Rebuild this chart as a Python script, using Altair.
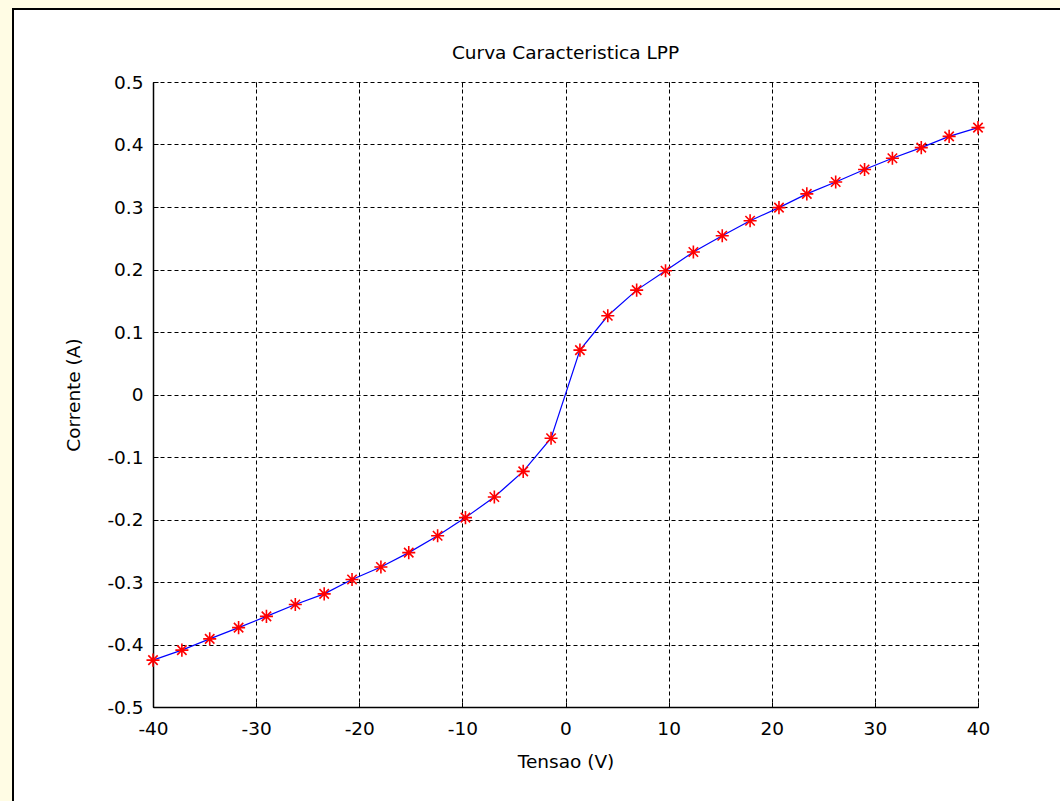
import altair as alt
import pandas as pd

# ---- data ----
tensao = [-40.0, -37.2, -34.5, -31.7, -29.0, -26.2, -23.4, -20.7, -17.9, -15.2,
          -12.4, -9.7, -6.9, -4.1, -1.4, 1.4, 4.1, 6.9, 9.7, 12.4,
          15.2, 17.9, 20.7, 23.4, 26.2, 29.0, 31.7, 34.5, 37.2, 40.0]
corrente = [-0.425, -0.409, -0.391, -0.373, -0.355, -0.336, -0.319, -0.296, -0.276, -0.253,
            -0.226, -0.197, -0.164, -0.123, -0.070, 0.071, 0.126, 0.167, 0.198, 0.228,
            0.254, 0.278, 0.299, 0.321, 0.340, 0.360, 0.378, 0.395, 0.413, 0.427]
x_ticks = [-40, -30, -20, -10, 0, 10, 20, 30, 40]
y_ticks = [-0.5, -0.4, -0.3, -0.2, -0.1, 0, 0.1, 0.2, 0.3, 0.4, 0.5]
title_text = "Curva Caracteristica LPP"

df = pd.DataFrame({"Tensao": tensao, "Corrente": corrente})
one = pd.DataFrame({"k": [0]})

W, H = 825, 625
PAD_L, PAD_T, PAD_R, PAD_B = 153, 82, 82, 94
FONT = "DejaVu Sans"
FS = 18.5
YELLOW = "#FFFCE4"
STAR = "M-1,0L1,0M0,-1L0,1M-0.72,-0.72L0.72,0.72M-0.72,0.72L0.72,-0.72"

xs = alt.Scale(domain=[-40, 40], nice=False, zero=False)
ys = alt.Scale(domain=[-0.5, 0.5], nice=False, zero=False)

grid_style = dict(grid=True, gridDash=[4, 3], gridColor="black", gridWidth=1, gridOpacity=1)
label_style = dict(labelFontSize=FS, labelColor="black", labelFont=FONT, labelFlush=False,
                   labelOverlap=False, labelExpr="'' + datum.value")
title_style = dict(titleFontSize=FS, titleFont=FONT, titleFontWeight="normal", titleColor="black")

main_x = alt.Axis(values=x_ticks, ticks=False, domain=True, domainColor="black", domainWidth=1.5,
                  labelPadding=12, title="Tensao (V)", titlePadding=15,
                  **grid_style, **label_style, **title_style)
main_y = alt.Axis(values=y_ticks, ticks=False, domain=True, domainColor="black", domainWidth=1.5,
                  labelPadding=10, title="Corrente (A)", titlePadding=23,
                  **grid_style, **label_style, **title_style)


def tick_axis(orient, vals):
    return alt.Axis(orient=orient, offset=-5, values=vals, labels=False, domain=False, grid=False,
                    ticks=True, tickSize=5, tickColor="black", tickWidth=1, title="")


# decorative outer frame (yellow margin with black edge)
left_strip = alt.Chart(one).mark_rect(color=YELLOW).encode(
    x=alt.value(-PAD_L), x2=alt.value(-PAD_L + 12), y=alt.value(-PAD_T), y2=alt.value(H + PAD_B))
top_strip = alt.Chart(one).mark_rect(color=YELLOW).encode(
    x=alt.value(-PAD_L), x2=alt.value(W + PAD_R), y=alt.value(-PAD_T), y2=alt.value(-PAD_T + 8))
frame = alt.Chart(one).mark_rect(fillOpacity=0, stroke="black", strokeWidth=2).encode(
    x=alt.value(-PAD_L + 13), x2=alt.value(W + PAD_R + 20), y=alt.value(-PAD_T + 9),
    y2=alt.value(H + PAD_B + 20))

title = alt.Chart(one).mark_text(text=title_text, font=FONT, fontSize=FS, color="black",
                                 align="center", baseline="alphabetic").encode(
    x=alt.value(W / 2), y=alt.value(-23))

line = alt.Chart(df).mark_line(color="#0000FF", strokeWidth=1.2).encode(
    x=alt.X("Tensao:Q", scale=xs, axis=main_x),
    y=alt.Y("Corrente:Q", scale=ys, axis=main_y),
)
pts = alt.Chart(df).mark_point(shape=STAR, size=170, color="#FF0000", strokeWidth=1.6,
                               filled=False, opacity=1).encode(
    x=alt.X("Tensao:Q", scale=xs, axis=tick_axis("bottom", x_ticks)),
    y=alt.Y("Corrente:Q", scale=ys, axis=tick_axis("left", y_ticks)),
)
pts2 = alt.Chart(df).mark_point(opacity=0).encode(
    x=alt.X("Tensao:Q", scale=xs, axis=tick_axis("top", x_ticks)),
    y=alt.Y("Corrente:Q", scale=ys, axis=tick_axis("right", y_ticks)),
)

chart = alt.layer(left_strip, top_strip, frame, title, line, pts, pts2).resolve_scale(
    x="independent", y="independent"
).resolve_axis(
    x="independent", y="independent"
).properties(
    width=W, height=H,
    autosize=alt.AutoSizeParams(type="none"),
    padding={"left": PAD_L, "top": PAD_T, "right": PAD_R, "bottom": PAD_B},
    background="white",
).configure_view(strokeWidth=0)

chart.save("out.html", embed_options={"renderer": "svg", "actions": False})
